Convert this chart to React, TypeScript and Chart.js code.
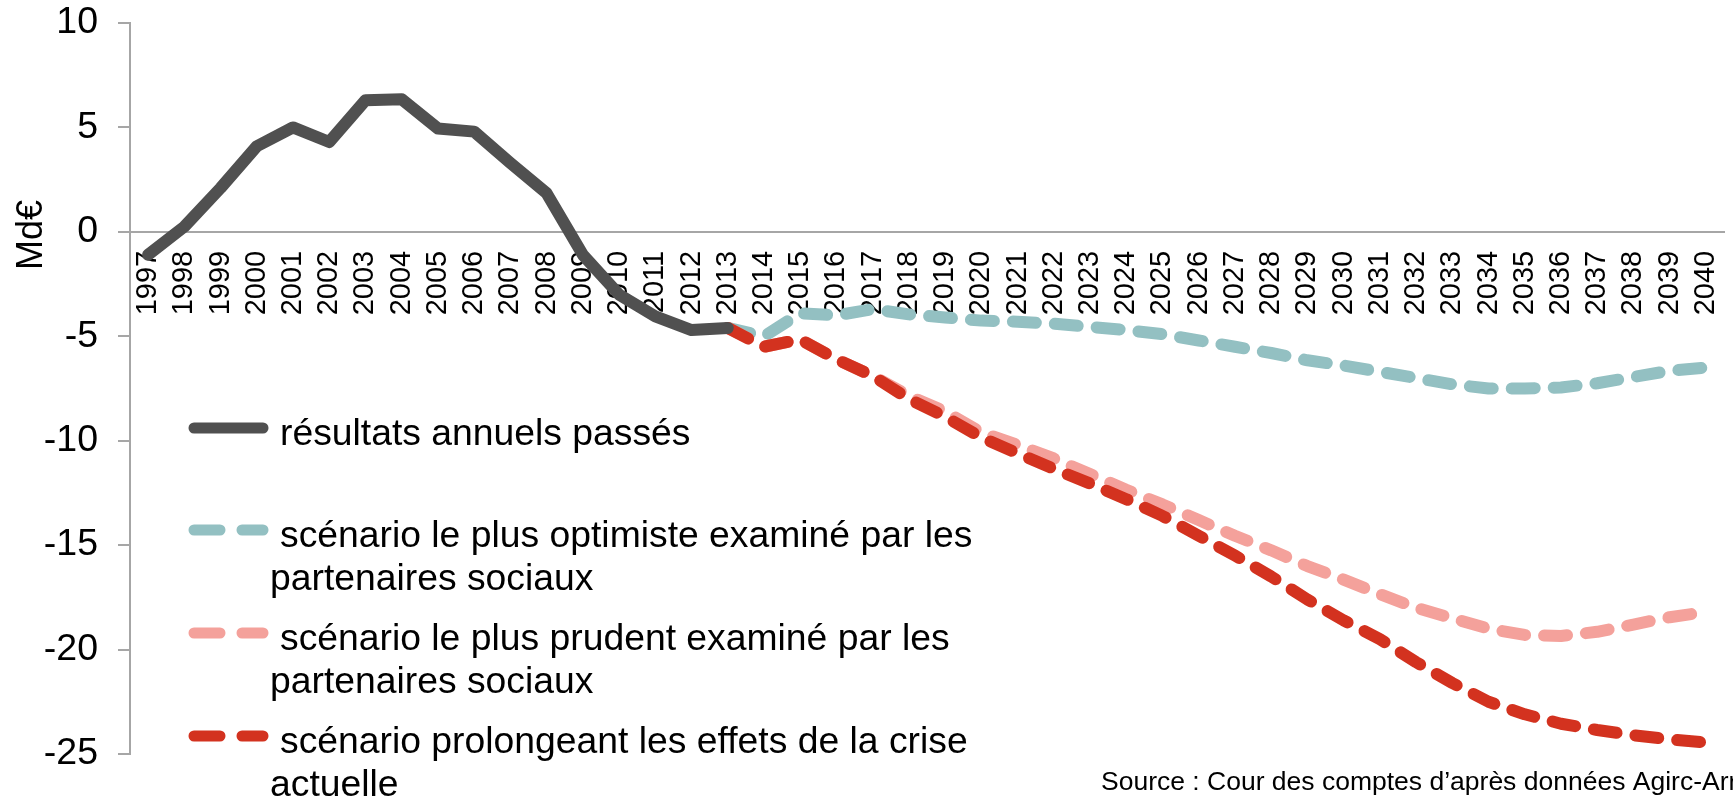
import React, { useEffect, useRef } from "react";
import { Chart, registerables } from "chart.js";

Chart.register(...registerables);

const FONT = '"Liberation Sans", Arial, Helvetica, sans-serif';

const years = [
  "1997", "1998", "1999", "2000", "2001", "2002", "2003", "2004", "2005", "2006",
  "2007", "2008", "2009", "2010", "2011", "2012", "2013", "2014", "2015", "2016",
  "2017", "2018", "2019", "2020", "2021", "2022", "2023", "2024", "2025", "2026",
  "2027", "2028", "2029", "2030", "2031", "2032", "2033", "2034", "2035", "2036",
  "2037", "2038", "2039", "2040",
];

// 1997 -> 2013
const resultatsPasses = [
  -1.1, 0.25, 2.1, 4.1, 5.0, 4.3, 6.3, 6.35, 4.95, 4.8,
  3.3, 1.85, -1.1, -3.0, -4.05, -4.7, -4.6,
  null, null, null, null, null, null, null, null, null, null,
  null, null, null, null, null, null, null, null, null, null,
  null, null, null, null, null, null, null,
];

// 2013 -> 2040
const scenarioOptimiste = [
  null, null, null, null, null, null, null, null, null, null,
  null, null, null, null, null, null,
  -4.6, -5.0, -3.9, -4.0, -3.7, -3.95, -4.1, -4.25, -4.3, -4.4,
  -4.55, -4.7, -4.9, -5.2, -5.5, -5.8, -6.15, -6.4, -6.7, -7.0,
  -7.3, -7.5, -7.5, -7.45, -7.25, -6.95, -6.65, -6.5,
];

const scenarioPrudent = [
  null, null, null, null, null, null, null, null, null, null,
  null, null, null, null, null, null,
  -4.6, -5.5, -5.15, -6.1, -6.9, -7.85, -8.6, -9.6, -10.2, -10.85,
  -11.6, -12.35, -13.05, -13.8, -14.55, -15.25, -16.0, -16.65, -17.35, -18.0,
  -18.5, -19.0, -19.3, -19.35, -19.15, -18.8, -18.45, -18.2,
];

const scenarioCrise = [
  null, null, null, null, null, null, null, null, null, null,
  null, null, null, null, null, null,
  -4.6, -5.5, -5.15, -6.1, -6.9, -8.0, -8.85, -9.85, -10.6, -11.35,
  -12.05, -12.8, -13.6, -14.55, -15.5, -16.5, -17.6, -18.6, -19.5, -20.6,
  -21.6, -22.5, -23.1, -23.55, -23.85, -24.1, -24.3, -24.45,
];

const seriesLabels = [
  "résultats annuels passés",
  "scénario le plus optimiste examiné par les partenaires sociaux",
  "scénario le plus prudent examiné par les partenaires sociaux",
  "scénario prolongeant les effets de la crise actuelle",
];

const yTicks = [10, 5, 0, -5, -10, -15, -20, -25];
const yTitle = "Md€";
const sourceText = "Source : Cour des comptes d’après données Agirc-Arrco";

const COLORS = ["#505050", "#93c0c2", "#f4a19b", "#d3321f"];

function wrapText(ctx: CanvasRenderingContext2D, text: string, maxWidth: number): string[] {
  const words = text.split(" ");
  const lines: string[] = [];
  let cur = "";
  for (const w of words) {
    const test = cur ? cur + " " + w : w;
    if (ctx.measureText(test).width > maxWidth && cur) {
      lines.push(cur);
      cur = w;
    } else {
      cur = test;
    }
  }
  if (cur) lines.push(cur);
  return lines;
}

const overlayPlugin = {
  id: "overlay",
  afterDraw(chart: any) {
    const ctx: CanvasRenderingContext2D = chart.ctx;
    ctx.save();
    ctx.fillStyle = "#000";

    // Y title
    ctx.save();
    ctx.font = `36px ${FONT}`;
    ctx.translate(42, 235);
    ctx.rotate(-Math.PI / 2);
    ctx.textAlign = "center";
    ctx.textBaseline = "alphabetic";
    ctx.fillText(yTitle, 0, 0);
    ctx.restore();

    // Legend
    const rowBaselines = [445, 547, 650, 753];
    const lineGap = 43;
    ctx.font = `37.3px ${FONT}`;
    ctx.textAlign = "left";
    ctx.textBaseline = "alphabetic";
    chart.data.datasets.forEach((ds: any, i: number) => {
      const yb = rowBaselines[i];
      const ys = yb - 17;
      ctx.save();
      ctx.strokeStyle = ds.borderColor;
      ctx.lineWidth = 11;
      ctx.lineCap = "round";
      ctx.beginPath();
      if (ds.borderDash && ds.borderDash.length) {
        ctx.moveTo(194, ys);
        ctx.lineTo(220, ys);
        ctx.moveTo(242, ys);
        ctx.lineTo(263, ys);
      } else {
        ctx.moveTo(194, ys);
        ctx.lineTo(263, ys);
      }
      ctx.stroke();
      ctx.restore();
      const lines = wrapText(ctx, ds.label, 715);
      lines.forEach((ln, k) => {
        ctx.fillText(ln, k === 0 ? 280 : 270, yb + k * lineGap);
      });
    });

    // Source
    ctx.font = `26.5px ${FONT}`;
    ctx.fillText(sourceText, 1101, 790);

    ctx.restore();
  },
};

export default function App() {
  const canvasRef = useRef<HTMLCanvasElement | null>(null);

  useEffect(() => {
    if (!canvasRef.current) return;
    const dashed = [23, 19];
    const lineStyle = (i: number, order: number, dash: boolean) => ({
      borderColor: COLORS[i],
      backgroundColor: COLORS[i],
      borderWidth: 12,
      borderDash: dash ? dashed : [],
      borderCapStyle: "round",
      borderJoinStyle: "round",
      pointRadius: 0,
      tension: 0,
      order,
    });
    const chart = new Chart(canvasRef.current, {
      type: "line",
      data: {
        labels: years,
        datasets: [
          { label: seriesLabels[0], data: resultatsPasses, ...lineStyle(0, 0, false) },
          { label: seriesLabels[1], data: scenarioOptimiste, ...lineStyle(1, 3, true) },
          { label: seriesLabels[2], data: scenarioPrudent, ...lineStyle(2, 2, true) },
          { label: seriesLabels[3], data: scenarioCrise, ...lineStyle(3, 1, true) },
        ] as any,
      },
      options: {
        animation: false,
        responsive: true,
        maintainAspectRatio: false,
        layout: { padding: { top: 23, right: 9, bottom: 42, left: 0 } },
        plugins: {
          legend: { display: false },
          tooltip: { enabled: false },
          title: { display: false },
        },
        scales: {
          x: {
            type: "category",
            position: { y: 0 } as any,
            offset: true,
            afterFit: (scale: any) => {
              scale.paddingLeft = 0;
              scale.paddingRight = 0;
            },
            grid: { display: false, drawTicks: false },
            border: { display: true, color: "#a6a6a6", width: 2 },
            ticks: {
              autoSkip: false,
              maxRotation: 90,
              minRotation: 90,
              padding: 19,
              color: "#000",
              font: { family: FONT, size: 29 },
            },
          },
          y: {
            type: "linear",
            min: -25,
            max: 10,
            afterFit: (scale: any) => {
              scale.width = 130;
              scale.paddingTop = 0;
              scale.paddingBottom = 0;
            },
            afterBuildTicks: (scale: any) => {
              scale.ticks = yTicks.map((v) => ({ value: v }));
            },
            grid: {
              drawOnChartArea: false,
              drawTicks: true,
              tickLength: 12,
              color: "#a6a6a6",
              lineWidth: 2,
            },
            border: { display: true, color: "#a6a6a6", width: 2 },
            ticks: {
              padding: 20,
              color: "#000",
              font: { family: FONT, size: 37.5 },
            },
          },
        },
      },
      plugins: [overlayPlugin],
    });
    return () => chart.destroy();
  }, []);

  return (
    <div style={{ position: "fixed", left: 0, top: 0, width: 1733, height: 796, background: "#fff" }}>
      <canvas ref={canvasRef} />
    </div>
  );
}
